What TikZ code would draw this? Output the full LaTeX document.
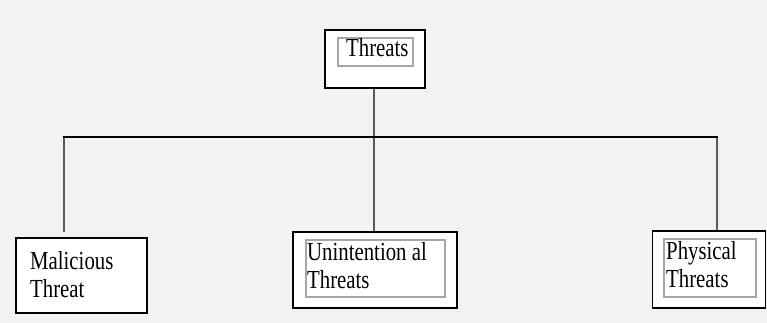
\documentclass[tikz,border=0pt]{standalone}
\usepackage{fontspec}
\newfontfamily\tfont[FakeStretch=0.8]{Liberation Serif}
\definecolor{bg}{HTML}{F2F2F2}
\definecolor{framegray}{HTML}{A6A6A6}
\definecolor{linegray}{HTML}{5A5A5A}
\tikzset{
  outerbox/.style={draw=black, line width=1.8pt, fill=white, inner sep=0pt},
  innerbox/.style={draw=framegray, line width=1.8pt, inner sep=0pt},
  lbl/.style={inner sep=0pt, anchor=base west, align=left, font=\tfont\fontsize{26}{28}\selectfont},
  drop/.style={draw=linegray, line width=2.8pt},
  bus/.style={draw=black, line width=1.8pt}
}
\begin{document}
\begin{tikzpicture}[x=1pt,y=-1pt]
\fill[bg] (0,0) rectangle (767,323);
\useasboundingbox (0,0) rectangle (767,323);
% boxes
\node[outerbox, minimum width=100pt, minimum height=58pt] (threats) at (375,59) {};
\node[innerbox, minimum width=75pt, minimum height=28pt] (threatsin) at (375.5,52) {};
\node[outerbox, minimum width=131pt, minimum height=75pt] (mal) at (81.5,275.5) {};
\node[outerbox, minimum width=164pt, minimum height=76pt] (unint) at (375,270) {};
\node[innerbox, minimum width=139pt, minimum height=57pt] (unintin) at (375.5,268.5) {};
\node[outerbox, minimum width=113pt, minimum height=77pt] (phys) at (709,269.5) {};
\node[innerbox, minimum width=92pt, minimum height=58pt] (physin) at (710,268) {};
% labels
\node[lbl] (tthreats) at (346,57) {Threats};
\node[lbl] (tmal) at (30,297) {Malicious\\Threat};
\node[lbl] (tunint) at (307,288) {Unintention al\\Threats};
\node[lbl] (tphys) at (666,287) {Physical\\Threats};
% connectors
\coordinate (busL) at (64,137);
\coordinate (busM) at (374,137);
\coordinate (busR) at (717,137);
\coordinate (malTop) at (64,232);
\draw[drop] (threats.south -| busM) -- (busM);
\draw[drop] (busL) -- (malTop);
\draw[drop] (busM) -- (busM |- unint.north);
\draw[drop] (busR) -- (busR |- phys.north);
\draw[bus] ([xshift=-1.4pt]busL) -- ([xshift=1.4pt]busR);
\end{tikzpicture}
\end{document}
